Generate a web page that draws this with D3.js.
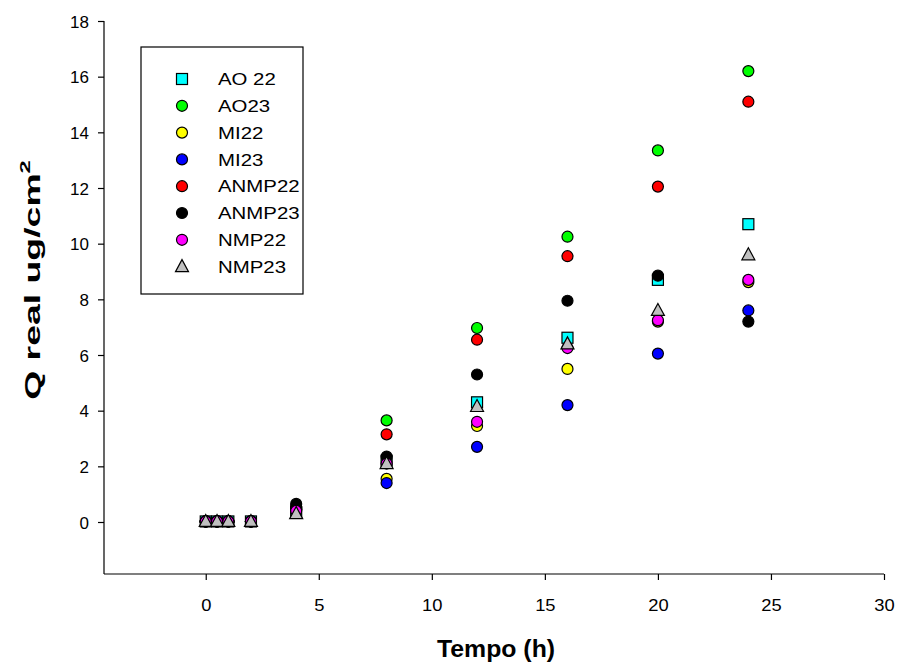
<!DOCTYPE html>
<html>
<head>
<meta charset="utf-8">
<script src="https://cdn.jsdelivr.net/npm/d3@7"></script>
<style>
  body { margin: 0; background: #fff; }
  text { font-family: "Liberation Sans", Arial, sans-serif; }
</style>
</head>
<body>
<svg id="chart" width="900" height="665"></svg>
<script>
// Werte
const tempo = [0, 0.5, 1, 2, 4, 8, 12, 16, 20, 24];
const AO22   = [0.02, 0.02, 0.02, 0.02, 0.35, 2.2, 4.3, 6.62, 8.7, 10.7];
const AO23   = [0.02, 0.02, 0.02, 0.02, 0.5, 3.65, 6.97, 10.25, 13.35, 16.2];
const MI22   = [0.02, 0.02, 0.02, 0.02, 0.45, 1.55, 3.45, 5.5, 7.2, 8.62];
const MI23   = [0.02, 0.02, 0.02, 0.02, 0.45, 1.4, 2.7, 4.2, 6.05, 7.6];
const ANMP22 = [0.02, 0.02, 0.02, 0.02, 0.55, 3.15, 6.55, 9.55, 12.05, 15.1];
const ANMP23 = [0.02, 0.02, 0.02, 0.02, 0.65, 2.35, 5.3, 7.95, 8.85, 7.2];
const NMP22  = [0.02, 0.02, 0.02, 0.02, 0.4, 2.1, 3.6, 6.25, 7.25, 8.7];
const NMP23  = [0.02, 0.02, 0.02, 0.02, 0.3, 2.1, 4.15, 6.4, 7.6, 9.6];

const seriesNames = ["AO 22", "AO23", "MI22", "MI23", "ANMP22", "ANMP23", "NMP22", "NMP23"];
const seriesValues = [AO22, AO23, MI22, MI23, ANMP22, ANMP23, NMP22, NMP23];
const seriesColors = ["#00ffff", "#00ff00", "#ffff00", "#0000ff", "#ff0000", "#000000", "#ff00ff", "#c0c0c0"];
const seriesShapes = ["square", "circle", "circle", "circle", "circle", "circle", "circle", "triangle"];

const xTicks = [0, 5, 10, 15, 20, 25, 30];
const yTicks = [0, 2, 4, 6, 8, 10, 12, 14, 16, 18];

let svg = d3.select("#chart");

let plot = { left: 104, right: 884, top: 21, bottom: 574 };

let xScale = d3.scaleLinear().domain([-4.5, 30]).range([plot.left, plot.right]);
let yScale = d3.scaleLinear().domain([0, 18]).range([522, 21]);

// Achsen
let xAxis = d3.axisBottom(xScale).tickValues(xTicks).tickSize(6).tickSizeOuter(0);
let yAxis = d3.axisLeft(yScale).tickValues(yTicks).tickSize(6).tickSizeOuter(0);

let gx = svg.append("g")
    .attr("transform", `translate(0, ${plot.bottom})`)
    .call(xAxis);
gx.select(".domain").attr("d", `M${plot.left},0H${plot.right}`);

let gy = svg.append("g")
    .attr("transform", `translate(${plot.left}, 0)`)
    .call(yAxis);
gy.select(".domain").attr("d", `M0,${plot.top}V${plot.bottom}`);

svg.selectAll(".domain, .tick line").attr("stroke", "#000").attr("stroke-width", 1.2);

// Schrift leicht in die Breite gezogen wie im Original
gx.selectAll(".tick text")
    .attr("font-size", 17).attr("fill", "#000")
    .attr("y", 0).attr("dy", 0)
    .attr("transform", "translate(0, 37) scale(1.08, 1)");
gy.selectAll(".tick text")
    .attr("font-size", 17).attr("fill", "#000")
    .attr("x", 0).attr("dy", "0.36em")
    .attr("transform", "translate(-15, 0) scale(1.0, 1)");

// Achsentitel
svg.append("text")
    .attr("transform", `translate(${(plot.left + plot.right) / 2 + 2}, 657) scale(1.08, 1)`)
    .attr("text-anchor", "middle")
    .attr("font-size", 23)
    .attr("font-weight", "bold")
    .text("Tempo (h)");

let yt = svg.append("text")
    .attr("transform", "translate(40, 280) rotate(-90) scale(1.7, 1)")
    .attr("text-anchor", "middle")
    .attr("font-size", 22)
    .attr("font-weight", "bold");
yt.append("tspan").text("Q real ug/cm");
yt.append("tspan").attr("font-size", 14).attr("dy", "-0.75em").text("2");

// Symbole
function drawMarker(g, shape, color, cx, cy) {
    if (shape === "square") {
        g.append("rect")
            .attr("x", cx - 5.5).attr("y", cy - 5.5)
            .attr("width", 11).attr("height", 11)
            .attr("fill", color).attr("stroke", "#000").attr("stroke-width", 1.2);
    } else if (shape === "triangle") {
        g.append("path")
            .attr("d", `M${cx},${cy - 7}L${cx + 6.5},${cy + 5}L${cx - 6.5},${cy + 5}Z`)
            .attr("fill", color).attr("stroke", "#000").attr("stroke-width", 1.2);
    } else {
        g.append("circle")
            .attr("cx", cx).attr("cy", cy).attr("r", 5.5)
            .attr("fill", color).attr("stroke", "#000").attr("stroke-width", 1.2);
    }
}

let gPoints = svg.append("g").attr("class", "points");
seriesValues.forEach(function (vals, i) {
    vals.forEach(function (v, j) {
        drawMarker(gPoints, seriesShapes[i], seriesColors[i], xScale(tempo[j]), yScale(v));
    });
});

// Legende
let legend = svg.append("g").attr("class", "legend");
legend.append("rect")
    .attr("x", 141).attr("y", 47)
    .attr("width", 162).attr("height", 247)
    .attr("fill", "#fff").attr("stroke", "#000").attr("stroke-width", 1.2);

seriesNames.forEach(function (name, i) {
    let ly = 79 + i * 26.8;
    drawMarker(legend, seriesShapes[i], seriesColors[i], 182, ly);
    legend.append("text")
        .attr("transform", `translate(218, ${ly}) scale(1.2, 1)`)
        .attr("dy", "0.36em")
        .attr("font-size", 17)
        .text(name);
});
</script>
</body>
</html>
